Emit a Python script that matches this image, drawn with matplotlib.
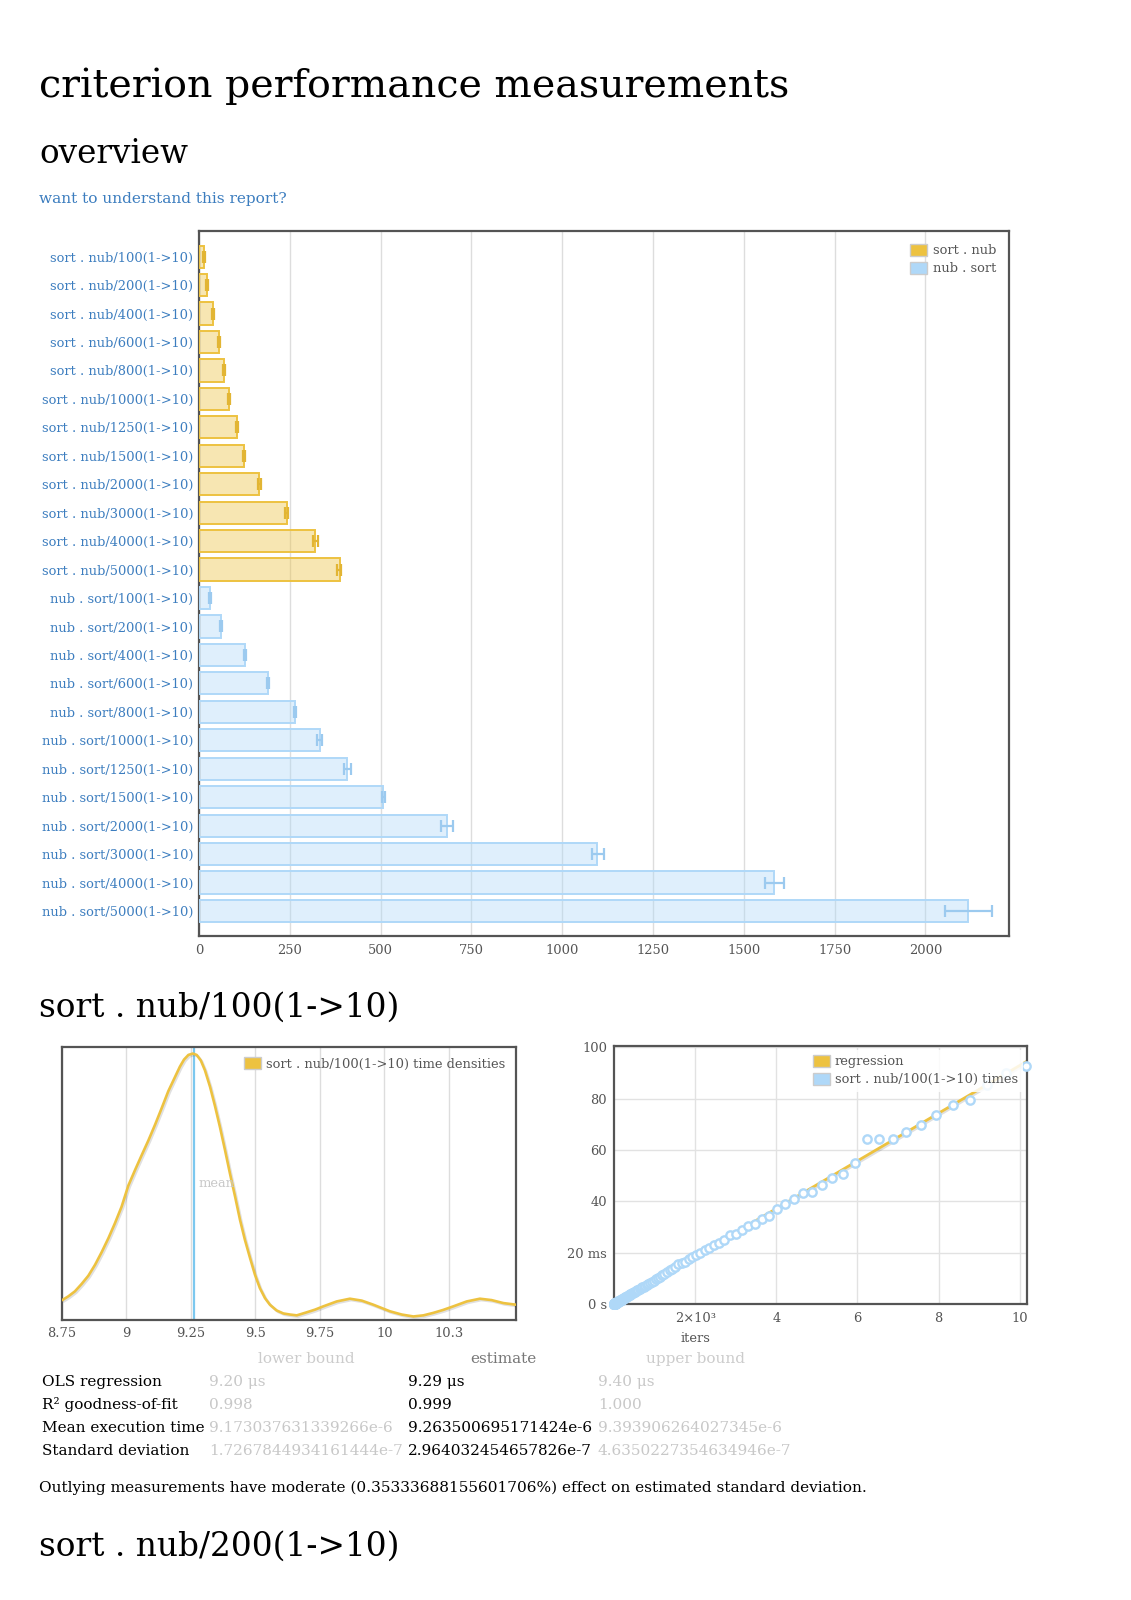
import matplotlib
matplotlib.use("Agg")
import matplotlib.pyplot as plt
from matplotlib.patches import Patch
from matplotlib import patheffects as pe
import numpy as np

W, H = 1131, 1600
plt.rcParams['font.family'] = ['DejaVu Serif']

YELLOW = "#edc240"
BLUE = "#afd8f8"
GRAY = "#545454"
LINK = "#3c7dbf"

# --- overview data ---
sizes = [100, 200, 400, 600, 800, 1000, 1250, 1500, 2000, 3000, 4000, 5000]
sort_nub_mean = [13, 22, 38, 54, 69, 83, 104, 123, 166, 242, 320, 388]
sort_nub_lo = [11, 20, 36, 52, 67, 81, 102, 121, 162, 238, 314, 379]
sort_nub_hi = [16, 24, 41, 57, 72, 86, 107, 126, 171, 246, 328, 392]
nub_sort_mean = [29, 60, 126, 190, 264, 332, 408, 507, 683, 1096, 1583, 2117]
nub_sort_lo = [28, 58, 124, 187, 261, 326, 399, 503, 667, 1083, 1558, 2055]
nub_sort_hi = [32, 62, 129, 194, 268, 339, 418, 511, 700, 1114, 1611, 2183]
bar_ticks = [0, 250, 500, 750, 1000, 1250, 1500, 1750, 2000]

# --- kde of sort . nub/100 (relative density) ---
kde_x = [8.753, 8.775, 8.800, 8.826, 8.852, 8.878, 8.904, 8.930, 8.955, 8.981,
         9.007, 9.033, 9.059, 9.085, 9.111, 9.136, 9.162, 9.188, 9.207, 9.223,
         9.240, 9.257, 9.272, 9.288, 9.304, 9.324, 9.343, 9.362, 9.382, 9.401,
         9.421, 9.440, 9.459, 9.479, 9.498, 9.517, 9.537, 9.556, 9.582, 9.608,
         9.634, 9.660, 9.698, 9.731, 9.763, 9.815, 9.866, 9.912, 9.957, 10.021,
         10.067, 10.112, 10.151, 10.189, 10.228, 10.267, 10.319, 10.370, 10.415,
         10.461, 10.510]
kde_y = [0.074, 0.087, 0.105, 0.132, 0.162, 0.202, 0.249, 0.300, 0.354, 0.415,
         0.492, 0.549, 0.604, 0.658, 0.716, 0.775, 0.838, 0.890, 0.928, 0.954,
         0.971, 0.976, 0.971, 0.951, 0.915, 0.854, 0.784, 0.708, 0.622, 0.537,
         0.452, 0.367, 0.294, 0.227, 0.166, 0.117, 0.080, 0.056, 0.035, 0.024,
         0.020, 0.017, 0.028, 0.038, 0.050, 0.068, 0.078, 0.071, 0.056, 0.032,
         0.020, 0.013, 0.017, 0.026, 0.037, 0.050, 0.068, 0.078, 0.073,
         0.062, 0.056]
kde_ticks = [8.75, 9, 9.25, 9.5, 9.75, 10, 10.25]
kde_ticklabels = ["8.75", "9", "9.25", "9.5", "9.75", "10", "10.3"]
mean_us = 9.2635

# --- iteration times (iters, ms) ---
iters = [1, 2, 3, 4, 5, 6, 7, 8, 9, 10, 11, 12, 13, 14, 15, 16, 17, 18, 19, 20,
         21, 22, 24, 25, 26, 28, 29, 31, 32, 34, 36, 38, 40, 42, 44, 47, 49, 52, 54, 57,
         60, 63, 66, 69, 73, 77, 81, 85, 89, 94, 98, 103, 109, 114, 120, 126, 132, 139,
         146, 153, 161, 169, 177, 186, 195, 205, 215, 226, 237, 249, 261, 274, 288, 302,
         318, 333, 350, 368, 386, 405, 426, 447, 469, 493, 517, 543, 570, 599, 629, 660,
         693, 728, 764, 802, 842, 885, 929, 975, 1024, 1075, 1129, 1185, 1244, 1307,
         1372, 1441, 1513, 1588, 1668, 1751, 1839, 1931, 2027, 2129, 2235, 2347, 2464,
         2587, 2717, 2853, 2995, 3145, 3302, 3467, 3641, 3823, 4014, 4215, 4426, 4647,
         4879, 5123, 5379, 5648, 5931, 6227, 6539, 6866, 7209, 7570, 7948, 8346, 8763,
         9201, 9661, 10144]
times_ms = [0.01, 0.02, 0.03, 0.04, 0.05, 0.06, 0.07, 0.08, 0.09, 0.1, 0.1, 0.11, 0.12,
            0.13, 0.14, 0.15, 0.16, 0.17, 0.18, 0.19,
            0.2, 0.2, 0.22, 0.23, 0.24, 0.26, 0.27, 0.29, 0.3, 0.32, 0.33, 0.35, 0.37,
            0.39, 0.41, 0.44, 0.46, 0.48, 0.5, 0.53,
            0.56, 0.58, 0.61, 0.64, 0.68, 0.71, 0.75, 0.79, 0.83, 0.87, 0.91, 0.96, 1.01,
            1.06, 1.11, 1.17, 1.23, 1.29, 1.36, 1.42, 1.5, 1.57, 1.64, 1.73, 1.81, 1.9,
            2.0, 2.1, 2.2, 2.31, 2.42, 2.55, 2.67, 2.81, 2.95, 3.09, 3.25, 3.42, 3.59,
            3.76, 3.96, 4.15, 4.36, 4.58, 4.8, 5.04, 5.3, 5.56, 5.84, 6.13,
            6.44, 6.76, 7.1, 7.45, 7.82, 8.3, 8.7, 9.1, 9.9, 10.0, 10.5, 11.4, 11.8, 12.3,
            13.2, 13.8, 14.4, 15.5, 15.8, 16.5, 17.4, 18.2, 19.2, 19.9, 21.0, 21.9, 23.0,
            23.9, 24.8, 27.0, 27.4, 28.8, 30.5, 31.3, 33.2, 34.2, 37.1, 39.1, 40.8, 43.1,
            43.8, 46.2, 49.2, 50.5, 54.9, 64.2, 64.3, 64.2, 66.9, 69.9, 73.5, 77.4, 79.5,
            85.4, 90.0, 92.7]
ols_ms_per_iter = 9.29e-3
sc_xticks = [2000, 4000, 6000, 8000, 10000]
sc_xticklabels = ["2×10³", "4", "6", "8", "10"]
sc_yticks = [0, 20, 40, 60, 80, 100]
sc_yticklabels = ["0 s", "20 ms", "40", "60", "80", "100"]

# --- summary table ---
row_names = ["OLS regression", "R² goodness-of-fit", "Mean execution time", "Standard deviation"]
lower_b = ["9.20 μs", "0.998", "9.173037631339266e-6", "1.7267844934161444e-7"]
estimate = ["9.29 μs", "0.999", "9.263500695171424e-6", "2.964032454657826e-7"]
upper_b = ["9.40 μs", "1.000", "9.393906264027345e-6", "4.6350227354634946e-7"]
outlier_note = ("Outlying measurements have moderate (0.35333688155601706%) "
                "effect on estimated standard deviation.")

fig = plt.figure(figsize=(W / 100, H / 100), dpi=100)
fig.patch.set_facecolor("white")
renderer = fig.canvas.get_renderer()


def px_axes(l, t, r, b):
    return fig.add_axes([l / W, 1 - b / H, (r - l) / W, (b - t) / H])


def put_text(x, y, s, width=None, size=12, **kw):
    t = fig.text(x / W, 1 - y / H, s, fontsize=size, **kw)
    if width:
        bb = t.get_window_extent(renderer)
        t.set_fontsize(size * width / bb.width)
    return t


def style_axes(ax):
    for sp in ax.spines.values():
        sp.set_color(GRAY)
        sp.set_linewidth(1.6)
    ax.tick_params(length=0, labelsize=9.4, labelcolor=GRAY)
    ax.set_axisbelow(True)


shadow = [pe.SimpleLineShadow(offset=(1, -1), alpha=0.12), pe.Normal()]

# headings
put_text(39, 97, "criterion performance measurements", width=748, va="baseline")
put_text(39, 163, "overview", width=149, va="baseline")
put_text(39, 203, "want to understand this report?", width=247, color=LINK, va="baseline")
put_text(39, 1017, "sort . nub/100(1->10)", width=360, va="baseline")
put_text(39, 1556, "sort . nub/200(1->10)", width=360, va="baseline")

# ---- overview bar chart ----
ax = px_axes(199, 231, 1009, 936)
style_axes(ax)
labels = [f"sort . nub/{n}(1->10)" for n in sizes] + [f"nub . sort/{n}(1->10)" for n in sizes]
n = len(sizes)
ypos = np.arange(2 * n)
ax.barh(ypos[:n], sort_nub_mean, height=0.78, color=YELLOW, alpha=0.4, zorder=2)
ax.barh(ypos[:n], sort_nub_mean, height=0.78, fill=False, edgecolor=YELLOW, lw=1.4, zorder=3)
ax.barh(ypos[n:], nub_sort_mean, height=0.78, color=BLUE, alpha=0.4, zorder=2)
ax.barh(ypos[n:], nub_sort_mean, height=0.78, fill=False, edgecolor=BLUE, lw=1.4, zorder=3)
m1 = np.array(sort_nub_mean)
m2 = np.array(nub_sort_mean)
ax.errorbar(m1, ypos[:n], xerr=[m1 - np.array(sort_nub_lo), np.array(sort_nub_hi) - m1],
            fmt="none", ecolor="#e2b534", elinewidth=1.6, capsize=4, capthick=1.6, zorder=4)
ax.errorbar(m2, ypos[n:], xerr=[m2 - np.array(nub_sort_lo), np.array(nub_sort_hi) - m2],
            fmt="none", ecolor="#9ccaef", elinewidth=1.6, capsize=4, capthick=1.6, zorder=4)
ax.set_yticks(ypos)
ax.set_yticklabels(labels)
for t in ax.get_yticklabels():
    t.set_color(LINK)
ax.set_xticks(bar_ticks)
ax.set_xlim(0, 2230)
ax.set_ylim(2 * n - 1 + 0.88, -0.9)
ax.tick_params(axis="y", pad=4)
ax.tick_params(axis="x", pad=6)
ax.grid(axis="x", color="#dddddd", lw=1)
ax.legend(handles=[Patch(facecolor=YELLOW, edgecolor="#cccccc"),
                   Patch(facecolor=BLUE, edgecolor="#cccccc")],
          labels=["sort . nub", "nub . sort"], loc="upper right", frameon=False,
          fontsize=9.4, labelcolor=GRAY, handlelength=1.3, handleheight=1.0,
          handletextpad=0.4, labelspacing=0.35, borderaxespad=0.6)

# ---- kde ----
ax2 = px_axes(62, 1047, 516, 1320)
style_axes(ax2)
ax2.plot(kde_x, kde_y, color=YELLOW, lw=1.9, solid_joinstyle="round", zorder=3,
         path_effects=shadow)
ax2.axvline(mean_us, color="#7cc8ef", lw=1.6, zorder=2)
ax2.annotate("mean", (mean_us, 0.5), xycoords=("data", "axes fraction"),
             xytext=(3, 0), textcoords="offset points", va="center", ha="left",
             color="#c8c8c8", fontsize=9.4)
ax2.set_xlim(8.75, 10.51)
ax2.set_ylim(0, 1.0)
ax2.set_xticks(kde_ticks)
ax2.set_xticklabels(kde_ticklabels)
ax2.set_yticks([])
ax2.tick_params(axis="x", pad=5)
ax2.grid(axis="x", color="#dddddd", lw=1)
ax2.legend(handles=[Patch(facecolor=YELLOW, edgecolor="#cccccc")],
           labels=["sort . nub/100(1->10) time densities"], loc="upper right",
           frameon=False, fontsize=9.4, labelcolor=GRAY, handlelength=1.3,
           handleheight=1.0, handletextpad=0.4, borderaxespad=0.4)

# ---- regression scatter ----
ax3 = px_axes(614, 1046, 1027, 1304)
style_axes(ax3)
xs = np.array(iters)
ax3.plot([0, xs.max()], [0, xs.max() * ols_ms_per_iter], color=YELLOW, lw=2, zorder=2,
         path_effects=shadow)
ax3.scatter(iters, times_ms, s=36, facecolors="white", edgecolors=BLUE, linewidths=1.7,
            zorder=3, clip_on=False)
ax3.set_xlim(0, 10180)
ax3.set_ylim(0, 100.5)
ax3.set_xticks(sc_xticks)
ax3.set_xticklabels(sc_xticklabels)
ax3.set_yticks(sc_yticks)
ax3.set_yticklabels(sc_yticklabels)
ax3.tick_params(axis="x", pad=6)
ax3.tick_params(axis="y", pad=5)
ax3.grid(color="#e2e2e2", lw=1)
ax3.text(2000, -0.11, "iters", transform=ax3.get_xaxis_transform(), ha="center",
         va="top", fontsize=9.4, color=GRAY)
leg = ax3.legend(handles=[Patch(facecolor=YELLOW, edgecolor="#cccccc"),
                          Patch(facecolor=BLUE, edgecolor="#cccccc")],
                 labels=["regression", "sort . nub/100(1->10) times"], loc="upper right",
                 frameon=True, fontsize=9.4, labelcolor=GRAY, handlelength=1.3,
                 handleheight=1.0, handletextpad=0.4, labelspacing=0.35,
                 borderaxespad=0.3, framealpha=0.85, edgecolor="none", fancybox=False)
leg.set_zorder(5)

# ---- table ----
t = put_text(42, 1428, row_names[2], width=162, va="center")
fs = t.get_fontsize()
t.remove()
put_text(306, 1359, "lower bound", size=fs, ha="center", va="center", color="#cccccc")
put_text(503, 1359, "estimate", size=fs, ha="center", va="center", color="#777777")
put_text(695, 1359, "upper bound", size=fs, ha="center", va="center", color="#cccccc")
row_y = [1382, 1405, 1428, 1451]
for i, y in enumerate(row_y):
    put_text(42, y, row_names[i], size=fs, va="center", color="black")
    put_text(209, y, lower_b[i], size=fs, va="center", color="#c8c8c8")
    put_text(408, y, estimate[i], size=fs, va="center", color="black")
    put_text(598, y, upper_b[i], size=fs, va="center", color="#c8c8c8")

put_text(39, 1488, outlier_note, width=828, va="center")

fig.savefig("out.png", dpi=100, facecolor="white")
